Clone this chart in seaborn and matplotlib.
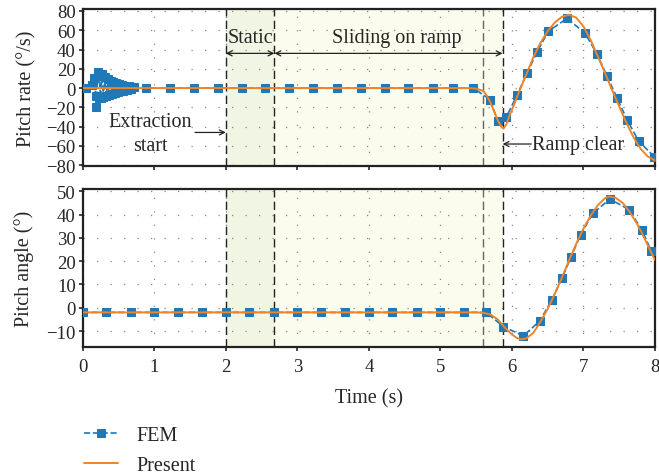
import numpy as np
import pandas as pd
import matplotlib
matplotlib.use("Agg")
import matplotlib.pyplot as plt
import seaborn as sns

# ---------------- data ----------------
# Pitch rate, FEM markers
rate_fem_t = [0.04, 0.13, 0.16, 0.18, 0.19, 0.21, 0.23, 0.25, 0.27, 0.29, 0.31, 0.33,
              0.35, 0.37, 0.39, 0.41, 0.43, 0.45, 0.47, 0.49, 0.51, 0.53, 0.55, 0.57,
              0.59, 0.62, 0.65, 0.68, 0.72,
              0.89, 1.22, 1.55, 1.89, 2.22, 2.55, 2.89, 3.22, 3.55, 3.89, 4.22, 4.55,
              4.89, 5.18, 5.46, 5.70, 5.80, 5.92, 6.07, 6.21, 6.35, 6.51, 6.77, 7.02,
              7.19, 7.33, 7.47, 7.61, 7.77, 7.99]
rate_fem_v = [0, 3, 10, -8, -20, 17, 13, -10, 15, -9, 11, -8,
              9, -7, 7, -6, 6, -5, 5, -4, 4, -3, 3, -3,
              2, -2, 2, -1, 1,
              0, 0, 0, 0, 0, 0, 0, 0, 0, 0, 0, 0,
              0, 0, 0, -12.1, -34.5, -30.3, -7.5, 15.2, 37.3, 59.0, 72.2, 57.2,
              35.2, 12.4, -10.3, -32.8, -54.8, -71.2]

# Pitch rate, present method
rate_pre_t = [0.0, 1.0, 2.0, 3.0, 4.0, 5.0, 5.4, 5.5, 5.6, 5.65, 5.7, 5.75, 5.8, 5.85,
              5.88, 5.92, 5.97, 6.03, 6.1, 6.2, 6.3, 6.4, 6.5, 6.6, 6.7, 6.8, 6.9,
              7.0, 7.1, 7.2, 7.3, 7.4, 7.5, 7.6, 7.7, 7.8, 7.9, 8.0]
rate_pre_v = [0, 0, 0, 0, 0, 0, 0, -0.5, -3, -8, -15, -24, -33, -40,
              -42, -38, -28, -17, -4, 14, 32, 47, 59, 68, 74, 76, 73,
              64, 50, 33, 16, -2, -19, -36, -51, -63, -71, -75]

# Pitch angle, FEM markers
ang_fem_t = [0.0, 0.33, 0.67, 1.0, 1.33, 1.67, 2.0, 2.33, 2.67, 3.0, 3.33, 3.67,
             4.0, 4.33, 4.67, 5.0, 5.33, 5.64, 5.88, 6.16, 6.39, 6.56, 6.70, 6.83,
             6.96, 7.13, 7.37, 7.64, 7.82, 7.95]
ang_fem_v = [-2, -2, -2, -2, -2, -2, -2, -2, -2, -2, -2, -2,
             -2, -2, -2, -2, -2, -2, -8.1, -12.1, -5.7, 3.4, 12.7, 22.0,
             31.3, 40.5, 46.7, 42.1, 33.2, 24.2]

# Pitch angle, present method
ang_pre_t = [0.0, 1.0, 2.0, 3.0, 4.0, 5.0, 5.5, 5.6, 5.7, 5.8, 5.9, 6.0, 6.07, 6.13,
             6.2, 6.3, 6.4, 6.5, 6.6, 6.7, 6.8, 6.9, 7.0, 7.1, 7.2, 7.3, 7.36,
             7.45, 7.55, 7.65, 7.75, 7.85, 7.95, 8.0]
ang_pre_v = [-2, -2, -2, -2, -2, -2, -2, -2.2, -2.9, -5, -8.5, -11.5, -13, -13.6,
             -13.2, -10.8, -6, -0.5, 6, 13, 20.5, 27.5, 34, 39.5, 44, 47, 47.8,
             47.2, 45, 41, 36, 30, 23.5, 20.5]

rate_ticks = [-80, -60, -40, -20, 0, 20, 40, 60, 80]
ang_ticks = [-10, 0, 10, 20, 30, 40, 50]
time_ticks = [0, 1, 2, 3, 4, 5, 6, 7, 8]

events = [2.0, 2.68, 5.59, 5.87]

# ---------------- style ----------------
sns.set_theme(style="ticks")
plt.rcParams["font.family"] = ["Liberation Serif", "DejaVu Serif"]
plt.rcParams["font.size"] = 13.5
plt.rcParams["axes.linewidth"] = 1.6
plt.rcParams["axes.edgecolor"] = "#222222"

blue = "#1f78b8"
orange = "#f08428"
FS = 14.5

fig = plt.figure(figsize=(6.59, 4.77), dpi=100)
ax1 = fig.add_axes([0.1255, 0.6505, 0.8684, 0.3285])
ax2 = fig.add_axes([0.1255, 0.2698, 0.8684, 0.3319])

df_rate_fem = pd.DataFrame({"t": rate_fem_t, "v": rate_fem_v})
df_rate_pre = pd.DataFrame({"t": rate_pre_t, "v": rate_pre_v})
df_ang_fem = pd.DataFrame({"t": ang_fem_t, "v": ang_fem_v})
df_ang_pre = pd.DataFrame({"t": ang_pre_t, "v": ang_pre_v})

for ax, fem, pre, ylim, yt in [(ax1, df_rate_fem, df_rate_pre, (-80.5, 82), rate_ticks),
                               (ax2, df_ang_fem, df_ang_pre, (-17, 51), ang_ticks)]:
    ax.axvspan(events[0], events[1], color="#f0f5e4", zorder=0, lw=0)
    ax.axvspan(events[1], events[3], color="#fbfbee", zorder=0, lw=0)
    for i, ev in enumerate(events):
        c = "#666666" if i == 2 else "#222222"
        ax.axvline(ev, color=c, ls=(0, (6, 3)), lw=1.0, zorder=1)
    sns.lineplot(data=fem, x="t", y="v", ax=ax, color=blue, linestyle="--", lw=1.2,
                 marker="s", markersize=5.5, markeredgecolor=blue, sort=False,
                 estimator=None, zorder=3, label="FEM", legend=False)
    sns.lineplot(data=pre, x="t", y="v", ax=ax, color=orange, lw=1.4, sort=False,
                 estimator=None, zorder=4, label="Present", legend=False)
    ax.set_xlim(0, 8)
    ax.set_ylim(*ylim)
    ax.set_yticks(yt)
    ax.set_xticks(time_ticks)
    ax.grid(True, color="#888888", ls=(0, (1, 9.8)), lw=0.9)
    ax.tick_params(direction="out", length=3, width=1.2, labelsize=13.5, pad=2)
    ax.tick_params(axis="x", pad=5)
    for s in ax.spines.values():
        s.set_visible(True)
    ax.set_xlabel("")

ax1.set_xticklabels([])
ax1.set_ylabel("Pitch rate (°/s)", fontsize=FS, labelpad=7)
ax2.set_ylabel("Pitch angle (°)", fontsize=FS, labelpad=9)
ax2.set_xlabel("Time (s)", fontsize=FS, labelpad=9)

# annotations (top panel)
arr = dict(arrowstyle="<->", lw=0.9, color="#222222", shrinkA=0, shrinkB=0, mutation_scale=9)
ax1.annotate("", xy=(2.0, 36), xytext=(2.68, 36), arrowprops=arr)
ax1.annotate("", xy=(2.68, 36), xytext=(5.87, 36), arrowprops=arr)
ax1.text(2.34, 52, "Static", ha="center", va="center", fontsize=FS)
ax1.text(4.39, 52, "Sliding on ramp", ha="center", va="center", fontsize=FS)
ax1.text(0.95, -35, "Extraction", ha="center", va="center", fontsize=FS)
ax1.text(0.95, -60, "start", ha="center", va="center", fontsize=FS)
one = dict(arrowstyle="->", lw=0.9, color="#222222", shrinkA=0, shrinkB=0, mutation_scale=9)
ax1.annotate("", xy=(2.0, -46), xytext=(1.57, -46), arrowprops=one)
ax1.annotate("", xy=(5.87, -58), xytext=(6.27, -58), arrowprops=one)
ax1.text(6.28, -58, "Ramp clear", ha="left", va="center", fontsize=FS)

handles, labels = ax2.get_legend_handles_labels()
fig.legend(handles, labels, loc="lower left", bbox_to_anchor=(0.1, -0.035),
           frameon=False, fontsize=FS, handlelength=1.7, handletextpad=0.9,
           labelspacing=0.5)

fig.savefig("out.png", dpi=100)
